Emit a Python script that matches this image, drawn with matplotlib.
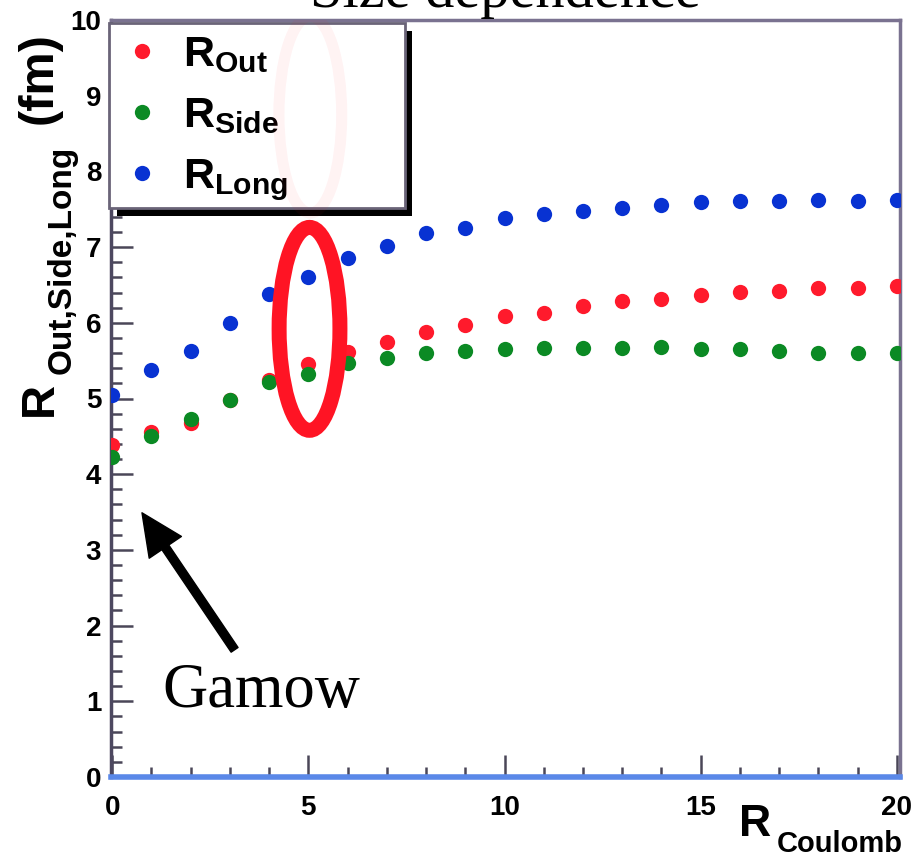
import numpy as np
import matplotlib
matplotlib.use("Agg")
import matplotlib.pyplot as plt
from matplotlib.patches import Ellipse, Rectangle

plt.rcParams['font.family'] = ['Liberation Sans', 'DejaVu Sans']
plt.rcParams['mathtext.fontset'] = 'custom'
plt.rcParams['mathtext.rm'] = 'Liberation Sans:bold'
plt.rcParams['mathtext.bf'] = 'Liberation Sans:bold'
plt.rcParams['mathtext.it'] = 'Liberation Sans:bold'

# values
r_coulomb = [0, 1, 2, 3, 4, 5, 6, 7, 8, 9, 10, 11, 12, 13, 14, 15, 16, 17, 18, 19, 20]
r_out = [4.39, 4.56, 4.68, 4.98, 5.24, 5.46, 5.61, 5.75, 5.88, 5.97, 6.09,
         6.13, 6.22, 6.29, 6.31, 6.37, 6.41, 6.42, 6.46, 6.46, 6.49]
r_side = [4.23, 4.50, 4.73, 4.98, 5.22, 5.32, 5.47, 5.53, 5.60, 5.63, 5.65,
          5.67, 5.67, 5.67, 5.68, 5.65, 5.65, 5.63, 5.60, 5.60, 5.60]
r_long = [5.05, 5.38, 5.63, 6.00, 6.38, 6.61, 6.86, 7.01, 7.19, 7.25, 7.38,
          7.44, 7.48, 7.52, 7.56, 7.60, 7.61, 7.61, 7.62, 7.61, 7.62]

series_labels = [r'$\mathrm{R}_{\mathrm{Out}}$', r'$\mathrm{R}_{\mathrm{Side}}$', r'$\mathrm{R}_{\mathrm{Long}}$']
series_colors = ['#ff1a2c', '#0b8a24', '#0832d2']

W, H = 911, 858
fig = plt.figure(figsize=(W / 100, H / 100), dpi=100)
ax = fig.add_axes([111 / W, 1 - 777 / H, 789 / W, 757 / H])

for ys, lab, col in zip([r_out, r_side, r_long], series_labels, series_colors):
    ax.plot(r_coulomb, ys, 'o', ms=11, color=col, mec='none', label=lab, zorder=3)

ax.set_xlim(-0.03, 20.08)
ax.set_ylim(0, 10)
ax.set_xticks([0, 5, 10, 15, 20])
ax.set_xticks(np.arange(0, 21, 1), minor=True)
ax.set_yticks(np.arange(0, 11, 1))
ax.set_yticks(np.arange(0, 10.01, 0.2), minor=True)
ax.tick_params(which='both', direction='in', color='#4a4658', width=1.8, labelsize=20)
ax.tick_params(axis='x', which='major', length=16, pad=13)
ax.tick_params(axis='x', which='minor', length=7)
ax.tick_params(axis='y', which='major', length=16, pad=7)
ax.tick_params(axis='y', which='minor', length=8)
for lab in ax.get_xticklabels() + ax.get_yticklabels():
    lab.set_fontweight('bold')

ax.spines['left'].set_color('#4d4860')
ax.spines['left'].set_linewidth(2.5)
ax.spines['top'].set_color('#7a7290')
ax.spines['top'].set_linewidth(2.5)
ax.spines['right'].set_color('#7a7290')
ax.spines['right'].set_linewidth(2.5)
ax.spines['bottom'].set_color('#5a88e8')
ax.spines['bottom'].set_linewidth(4)

# legend box with black drop shadow
ax.add_patch(Rectangle((0.008, 0.741), 0.374, 0.245, transform=ax.transAxes,
                       facecolor='black', edgecolor='none', zorder=4, clip_on=False))
ax.add_patch(Rectangle((-0.002, 0.752), 0.374, 0.244, transform=ax.transAxes,
                       facecolor='white', edgecolor='#6a6478', lw=2, zorder=4.5, clip_on=False))
leg = ax.legend(loc='upper left', bbox_to_anchor=(0.012, 0.994), frameon=False, fontsize=31,
                handlelength=0.5, handletextpad=0.7, labelspacing=0.48, borderpad=0.25,
                borderaxespad=0.0)
leg.set_zorder(5)

# red ellipse around R = 5 and its faint ghost from the scan
ax.add_patch(Ellipse((5.03, 5.92), 1.55, 2.68, fill=False, edgecolor='#ff1424', lw=10.8, zorder=4))
ax.add_patch(Ellipse((5.05, 8.75), 1.6, 2.6, fill=False, edgecolor='#ff1424', lw=8,
                     alpha=0.05, zorder=6))

# Gamow arrow
ax.annotate('', xy=(0.76, 3.49), xytext=(3.12, 1.68),
            arrowprops=dict(facecolor='black', edgecolor='black', width=6,
                            headwidth=28, headlength=30, shrink=0))
ax.text(1.29, 0.92, 'Gamow', fontsize=45, family='Liberation Serif', va='baseline', ha='left')

# title, mostly cut off at the top of the scan
fig.text(505 / W, 1 - 7 / H, 'Size dependence', fontsize=42, family='Liberation Serif',
         ha='center', va='baseline')

# y axis label
fig.text(40 / W, 1 - 399 / H, 'R', fontsize=34, fontweight='bold', rotation=90,
         ha='center', va='center')
fig.text(62 / W, 1 - 260 / H, 'Out,Side,Long', fontsize=24, fontweight='bold', rotation=90,
         ha='center', va='center')
fig.text(39 / W, 1 - 78 / H, '(fm)', fontsize=35, fontweight='bold', rotation=90,
         ha='center', va='center')

# x axis label
fig.text(755 / W, 1 - 825 / H, 'R', fontsize=32, fontweight='bold', ha='center', va='center')
fig.text(777 / W, 1 - 852 / H, 'Coulomb', fontsize=21, fontweight='bold', ha='left', va='baseline')

fig.savefig('out.png', dpi=100)
